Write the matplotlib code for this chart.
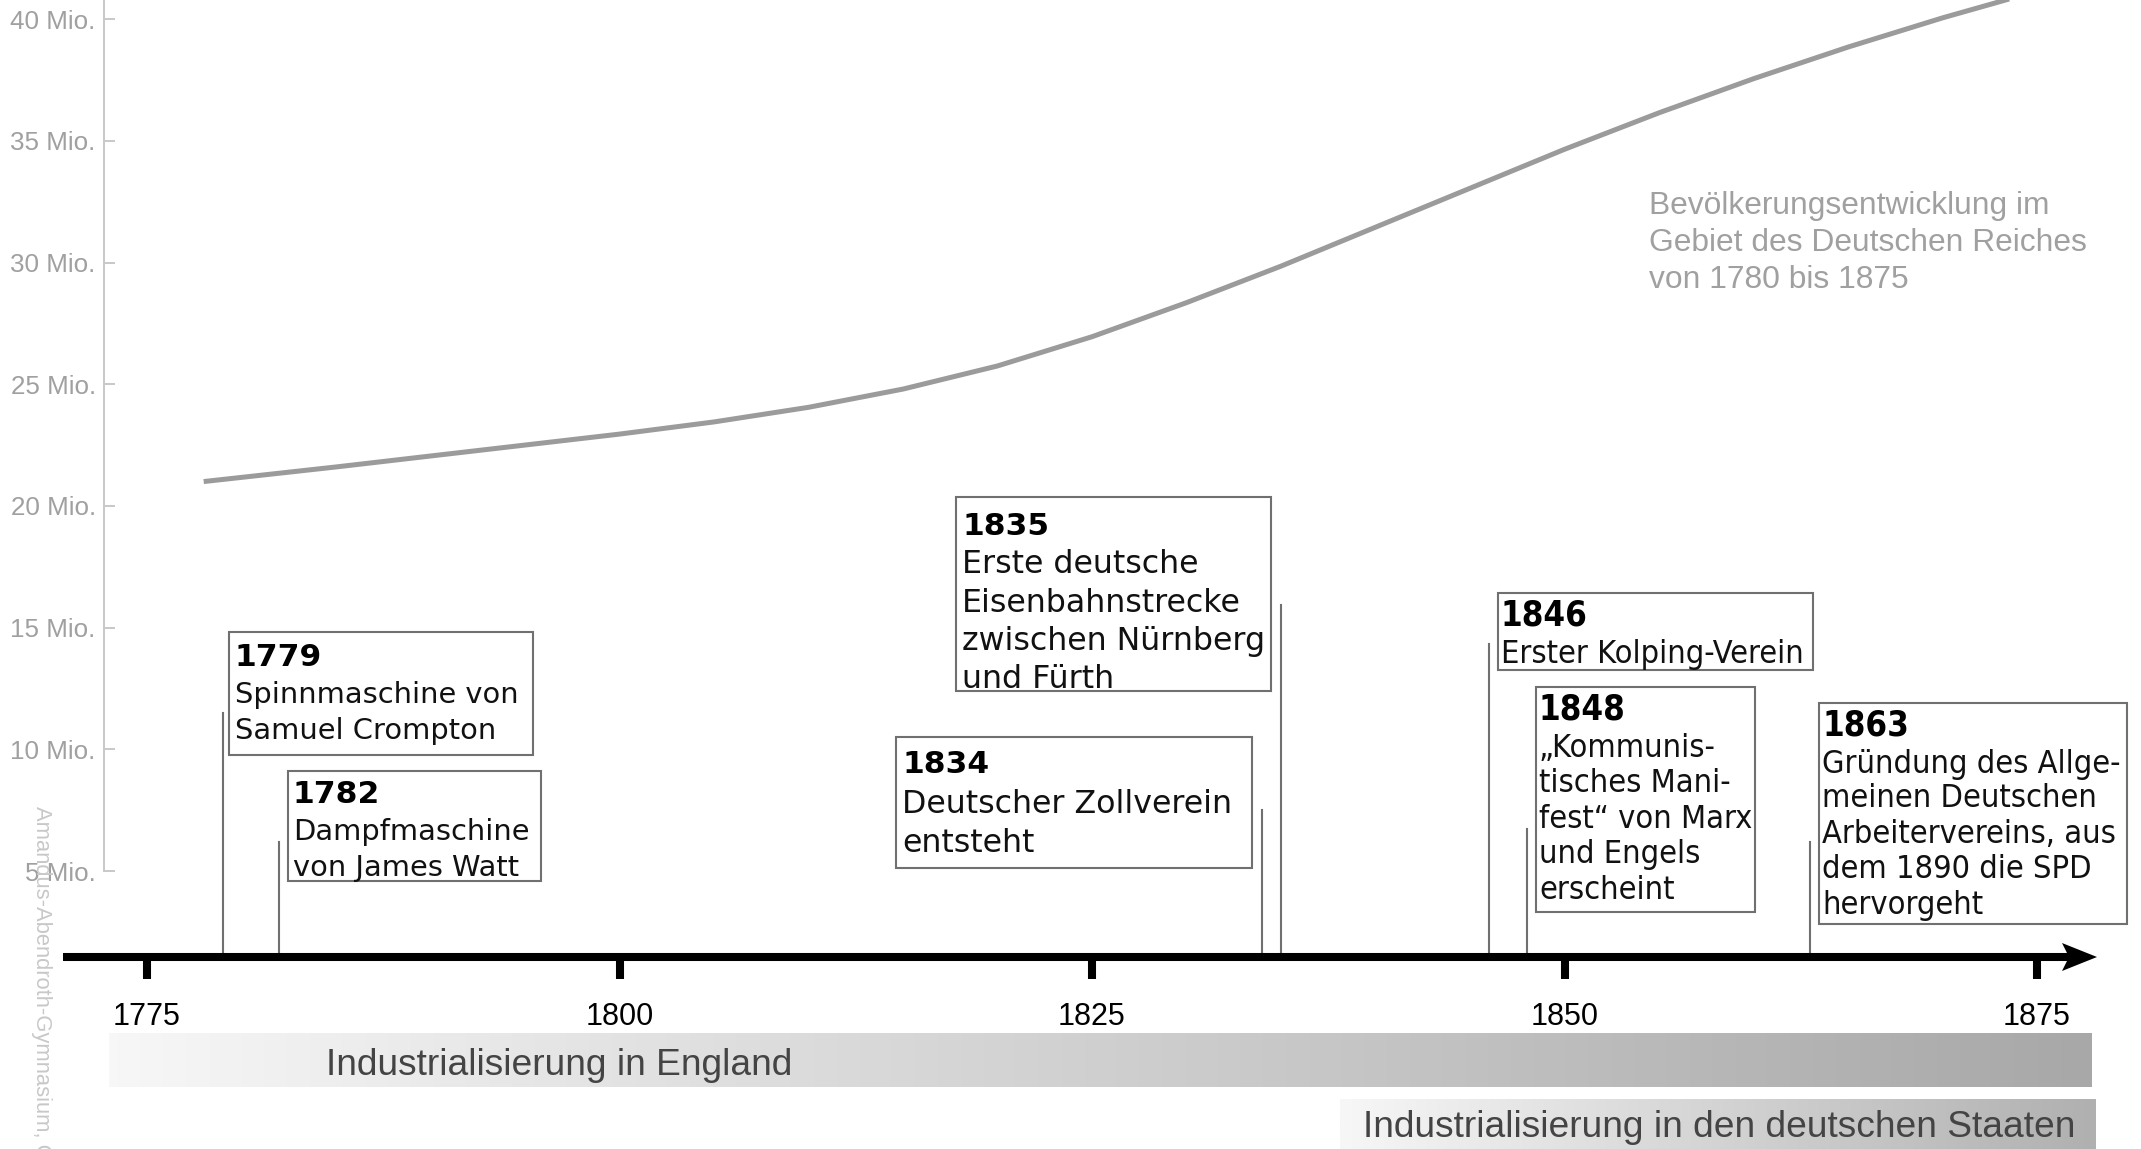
import numpy as np
import matplotlib
matplotlib.use("Agg")
import matplotlib.pyplot as plt
from matplotlib.patches import Rectangle, Polygon
from matplotlib.colors import LinearSegmentedColormap

# Bevoelkerung im Gebiet des Deutschen Reiches (Mio.)
pop_years = [1778, 1785, 1790, 1795, 1800, 1805, 1810, 1815, 1820, 1825, 1830,
             1835, 1840, 1845, 1850, 1855, 1860, 1865, 1870, 1875]
pop_mio = [21.0, 21.6, 22.05, 22.5, 22.95, 23.45, 24.05, 24.8, 25.75, 26.95, 28.35,
           29.85, 31.45, 33.05, 34.65, 36.15, 37.55, 38.85, 40.05, 41.15]

y_ticks = [5, 10, 15, 20, 25, 30, 35, 40]
y_labels = [f"{v} Mio." for v in y_ticks]
x_ticks = [1775, 1800, 1825, 1850, 1875]

event_years = [1779, 1782, 1834, 1835, 1846, 1848, 1863]
event_texts = [
    "Spinnmaschine von\nSamuel Crompton",
    "Dampfmaschine\nvon James Watt",
    "Deutscher Zollverein\nentsteht",
    "Erste deutsche\nEisenbahnstrecke\nzwischen Nürnberg\nund Fürth",
    "Erster Kolping-Verein",
    "„Kommunis-\ntisches Mani-\nfest“ von Marx\nund Engels\nerscheint",
    "Gründung des Allge-\nmeinen Deutschen\nArbeitervereins, aus\ndem 1890 die SPD\nhervorgeht",
]

phase_labels = ["Industrialisierung in England", "Industrialisierung in den deutschen Staaten"]
phase_start = [1773.0, 1838.1]
phase_end = [1877.9, 1878.1]

pop_note = ["Bevölkerungsentwicklung im", "Gebiet des Deutschen Reiches", "von 1780 bis 1875"]
credit = "Amandus-Abendroth-Gymnasium, Cuxhaven"


# pixel -> data helpers for the layout (figure is 2141 x 1149 px)
def X(px):
    return 1775 + (px - 147) / 18.9


def Y(py):
    return (992.7 - py) / 24.34


# box layout in pixels: (left, top, right, bottom), text left, baselines, stem top, size, condensed
boxes = {
    1779: ((229, 632, 533, 755), 235, [666, 703, 739], 713, 20.8, False),
    1782: ((288, 771, 541, 881), 293, [803, 840, 876], 842, 20.8, False),
    1834: ((896, 737, 1252, 868), 902, [773, 813, 852], 810, 22.8, False),
    1835: ((956, 497, 1271, 691), 962, [535, 573, 612, 650, 688], 605, 22.8, False),
    1846: ((1498, 593, 1813, 670), 1501, [625, 663], 644, 23.3, True),
    1848: ((1536, 687, 1755, 912), 1539, [719, 757, 792, 828, 863, 899], 829, 23.3, True),
    1863: ((1819, 703, 2127, 924), 1822, [735, 773, 807, 843, 878, 914], 842, 23.3, True),
}

fig = plt.figure(figsize=(21.41, 11.49), dpi=100)
ax = fig.add_axes([0, 0, 1, 1])

# population curve
ax.plot(pop_years, pop_mio, color="#9b9b9b", lw=3.6, solid_capstyle="butt",
        solid_joinstyle="round", zorder=2)

# y axis (population)
ax.spines["left"].set_position(("data", X(104)))
ax.spines["left"].set_bounds(5, Y(0))
ax.spines["left"].set_color("#c8c8c8")
ax.spines["left"].set_linewidth(1.4)
ax.set_yticks(y_ticks, y_labels)
ax.tick_params(axis="y", direction="in", length=8, width=1.4, color="#c8c8c8",
               labelsize=18.7, labelcolor="#a0a0a0", pad=6)

# timeline as x axis
ax.spines["bottom"].set_position(("data", Y(957)))
ax.spines["bottom"].set_bounds(X(63), X(2072))
ax.spines["bottom"].set_linewidth(5.8)
ax.spines["bottom"].set_color("black")
ax.spines["bottom"].set_capstyle("butt")
ax.set_xticks(x_ticks, [str(t) for t in x_ticks])
ax.tick_params(axis="x", direction="out", length=15.8, width=5.8, color="black",
               labelsize=22, labelcolor="black", pad=16.5)
for sp in ["top", "right"]:
    ax.spines[sp].set_visible(False)
ax.add_patch(Polygon([(X(2097), Y(957)), (X(2062), Y(943)), (X(2069), Y(957)), (X(2062), Y(971))],
                     closed=True, color="black", lw=0, zorder=3))

for lab in ax.get_xticklabels() + ax.get_yticklabels():
    lab.set_fontfamily(["Liberation Sans", "DejaVu Sans"])

# events: stems, boxes, texts
for year, text in zip(event_years, event_texts):
    (l, t, r, b), tx, bases, stem_top, size, cond = boxes[year]
    ax.plot([year, year], [Y(stem_top), Y(953)], color="#707070", lw=1.5, zorder=2)
    ax.add_patch(Rectangle((X(l), Y(b)), X(r) - X(l), Y(t) - Y(b), facecolor="white",
                           edgecolor="#707070", lw=1.5, zorder=3))
    stretch = "condensed" if cond else "normal"
    ax.text(X(tx), Y(bases[0]), str(year), fontsize=25 if cond else 22.6, fontweight="bold",
            family="DejaVu Sans", fontstretch=stretch, va="baseline", ha="left", zorder=4)
    for line, base in zip(text.split("\n"), bases[1:]):
        ax.text(X(tx), Y(base), line, fontsize=size, family="DejaVu Sans",
                fontstretch=stretch, color="#111111", va="baseline", ha="left", zorder=4)

# note next to the curve
for line, base in zip(pop_note, [214, 251, 288]):
    ax.text(X(1649), Y(base), line, fontsize=22.9, family="Liberation Sans",
            color="#a0a0a0", va="baseline", ha="left")

# phase bars with grey gradient
bar_rows = [(1033, 1087, "#f7f7f7", "#a8a8a8", 326, 1075),
            (1099, 1160, "#f7f7f7", "#b0b0b0", 1363, 1137)]
grad = np.linspace(0, 1, 256)[None, :]
for label, x0, x1, (top, bot, c0, c1, tx, base) in zip(phase_labels, phase_start, phase_end, bar_rows):
    cmap = LinearSegmentedColormap.from_list("g", [c0, c1])
    ax.imshow(grad, cmap=cmap, aspect="auto", extent=(x0, x1, Y(bot), Y(top)), zorder=1)
    ax.text(X(tx), Y(base), label, fontsize=26.7, family="Liberation Sans",
            color="#444444", va="baseline", ha="left", zorder=2)

# credit watermark
ax.text(X(41), Y(806), credit, rotation=-90, fontsize=15.8, family="Liberation Sans",
        color="#c8c8c8", ha="center", va="top", zorder=5)

ax.set_xlim(X(0), X(2141))
ax.set_ylim(Y(1149), Y(0))
fig.savefig("out.png", dpi=100)
